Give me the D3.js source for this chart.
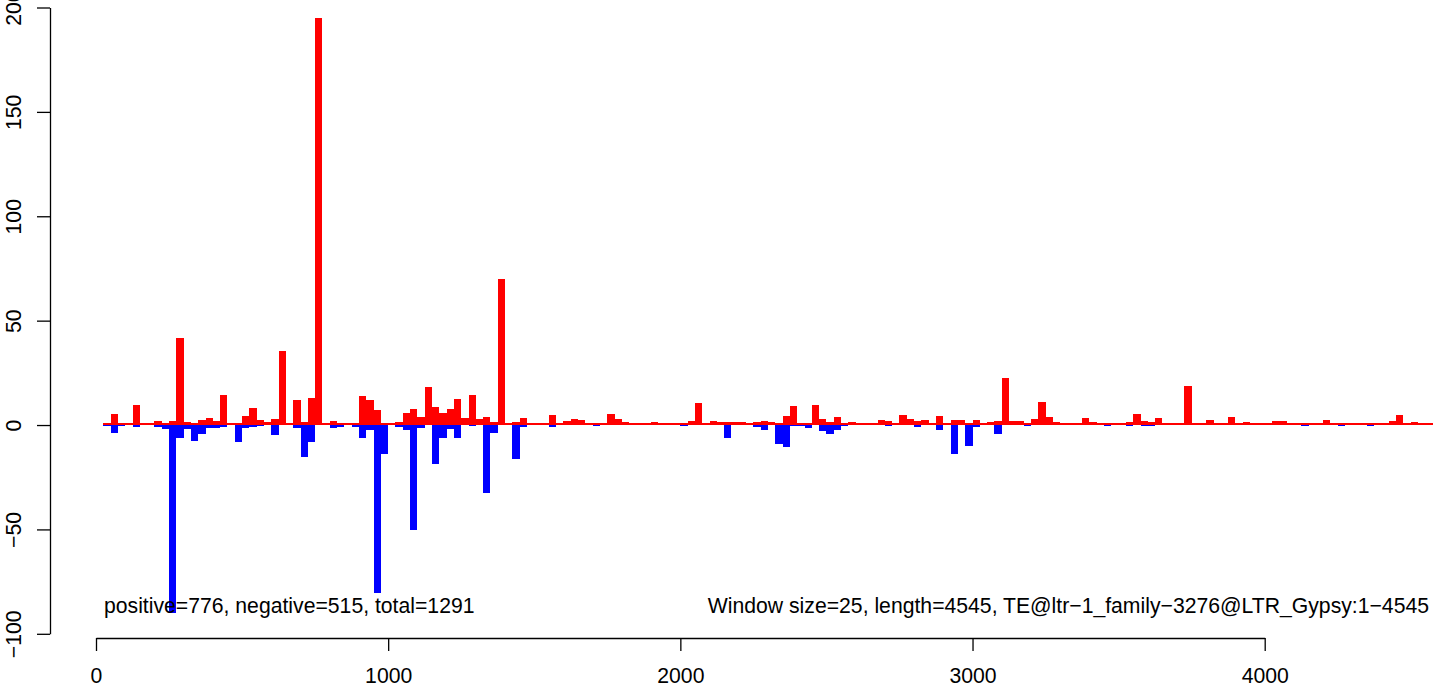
<!DOCTYPE html>
<html>
<head>
<meta charset="utf-8">
<script src="https://cdn.jsdelivr.net/npm/d3@7"></script>
<style>
  html, body { margin: 0; padding: 0; background: #fff; }
  svg { display: block; }
  text { font-family: "Liberation Sans", Arial, Helvetica, sans-serif; }
</style>
</head>
<body>
<svg id="chart" width="1444" height="686"></svg>
<script>
// ---- data ----
const windowSize = 25;
const windowIndex = d3.range(1, 183); // window i covers [25*i, 25*i+25]
const positive = [
  0, 5.5, 1, 0, 9.5, 1, 0, 2, 0, 2,
  41.5, 1.5, 1, 2.5, 3.5, 2, 14.5, 1, 1, 4.5,
  8, 2.5, 1.5, 3, 35.5, 0, 12, 1.5, 13, 195,
  1, 2, 1, 0, 1, 14, 12, 7, 1, 0.5,
  1.5, 6, 7.5, 4, 18, 8.5, 6, 7.5, 12.5, 3.5,
  14.5, 3, 4, 1.5, 70, 0, 1.5, 3.5, 0, 0,
  0, 5, 0, 2, 3, 2.5, 0.5, 0, 0, 5.5,
  3, 1.5, 0, 0, 0, 1.5, 0, 0, 0, 0,
  2, 10.5, 0, 2, 1.5, 1.5, 1.5, 1.5, 1, 1.5,
  2, 1.5, 1, 4.5, 9, 0, 0, 9.5, 3, 1.5,
  4, 1, 1.5, 1, 0.5, 0, 2.5, 2, 1, 5,
  3, 2, 2.5, 1, 4.5, 0, 2.5, 2.5, 0, 2.5,
  0.5, 1.5, 2, 22.5, 2, 2, 1, 3, 11, 4,
  1.5, 0, 0, 0, 3.5, 1.5, 0, 0, 0, 0,
  1.5, 5.5, 2, 1.5, 3.5, 1, 1, 0, 18.5, 0,
  1, 2.5, 1, 1, 4, 0, 1.5, 0, 0, 0,
  2, 2, 1, 1, 0, 0, 1, 2.5, 0, 0,
  1, 0, 1, 0, 0, 0, 2, 5, 0, 1.5,
  0, 0
];
const negative = [
  -0.5, -4, -0.5, 0, -1, 0, 0, -1, -2, -90,
  -6, -2, -7.5, -4.5, -1.5, -1.5, -1, 0, -8, -1.5,
  -1, -0.5, 0, -5, 0, 0, -1.5, -15.5, -8, 0,
  0, -1.5, -1, 0, -1, -6, -2.5, -80.5, -14, 0,
  -1, -2.5, -50.5, -1.5, 0, -18.5, -6, -2, -6, 0,
  -0.5, 0, -32.5, -4, 0, 0, -16.5, -1, 0, 0,
  0, -1, 0, 0, 0, 0, 0, -0.3, 0, 0,
  0, 0, 0, 0, 0, 0, 0, 0, 0, -0.3,
  0, 0, 0, 0, 0, -6, 0, 0, 0, -1,
  -2.5, 0, -9, -10.5, -0.5, -0.5, -1.5, 0, -3, -4.5,
  -2.5, -0.5, 0, 0, 0, 0, 0, -0.5, 0, 0,
  0, -1, 0, 0, -2.5, 0, -14, 0, -10, -1,
  0, 0, -4.5, 0, 0, 0, -0.5, 0, 0, 0,
  0, 0, 0, 0, 0, 0, 0, -0.3, 0, 0,
  -0.3, 0, -0.3, -0.3, 0, 0, 0, 0, 0, 0,
  0, 0, 0, 0, 0, 0, 0, 0, 0, 0,
  0, 0, 0, 0, -0.3, 0, 0, 0, 0, -0.3,
  0, 0, 0, -0.3, 0, 0, 0, 0, 0, 0,
  0, 0
];
const xTicks = [0, 1000, 2000, 3000, 4000];
const yTicks = [-100, -50, 0, 50, 100, 150, 200];
const leftNote = "positive=776, negative=515, total=1291";
const rightNote = "Window size=25, length=4545, TE@ltr\u22121_family\u22123276@LTR_Gypsy:1\u22124545";

// ---- chart ----
const svg = d3.select("#chart");
const x = d3.scaleLinear().domain([0, 4000]).range([96, 1264.7]);
const y = d3.scaleLinear().domain([-100, 200]).range([633.8, 7.5]);
const y0 = y(0);
const fontSize = 21.2;

const bars = windowIndex.map((w, k) => ({ start: w * windowSize, pos: positive[k], neg: negative[k] }));

// positive (red)
svg.append("g").selectAll("rect").data(bars).join("rect")
  .attr("x", d => x(d.start))
  .attr("width", d => x(d.start + windowSize) - x(d.start))
  .attr("y", d => Math.min(y(d.pos), y0 - 1.6))
  .attr("height", d => y0 - Math.min(y(d.pos), y0 - 1.6))
  .attr("fill", "#ff0000")
  .attr("shape-rendering", "crispEdges");

// negative (blue)
svg.append("g").selectAll("rect").data(bars.filter(d => d.neg < 0)).join("rect")
  .attr("x", d => x(d.start))
  .attr("width", d => x(d.start + windowSize) - x(d.start))
  .attr("y", y0)
  .attr("height", d => Math.max(y(d.neg) - y0, 1.3))
  .attr("fill", "#0000ff")
  .attr("shape-rendering", "crispEdges");

// y axis
const yAxis = svg.append("g").attr("transform", "translate(50,0)")
  .call(d3.axisLeft(y).tickValues(yTicks).tickSize(13).tickSizeOuter(0)
    .tickFormat(d => d < 0 ? "\u2212" + Math.abs(d) : String(d)));
yAxis.selectAll("path, line").attr("stroke", "#000").attr("stroke-width", 1.3);
yAxis.selectAll("text")
  .attr("x", null).attr("dy", null)
  .attr("text-anchor", "middle")
  .attr("transform", "translate(-29,0) rotate(-90)")
  .attr("fill", "#000")
  .style("font-size", fontSize + "px")
  .style("font-family", "'Liberation Sans', Arial, sans-serif");

// x axis
const xAxis = svg.append("g").attr("transform", "translate(0,638)")
  .call(d3.axisBottom(x).tickValues(xTicks).tickSize(13).tickSizeOuter(0).tickFormat(d3.format("d")));
xAxis.selectAll("path, line").attr("stroke", "#000").attr("stroke-width", 1.3);
xAxis.selectAll("text")
  .attr("y", 45).attr("dy", null)
  .attr("fill", "#000")
  .style("font-size", fontSize + "px")
  .style("font-family", "'Liberation Sans', Arial, sans-serif");

// annotations
svg.append("text")
  .attr("x", 104).attr("y", 613)
  .attr("text-anchor", "start")
  .style("font-size", fontSize + "px")
  .text(leftNote);
svg.append("text")
  .attr("x", 1429).attr("y", 613)
  .attr("text-anchor", "end")
  .style("font-size", fontSize + "px")
  .text(rightNote);
</script>
</body>
</html>
